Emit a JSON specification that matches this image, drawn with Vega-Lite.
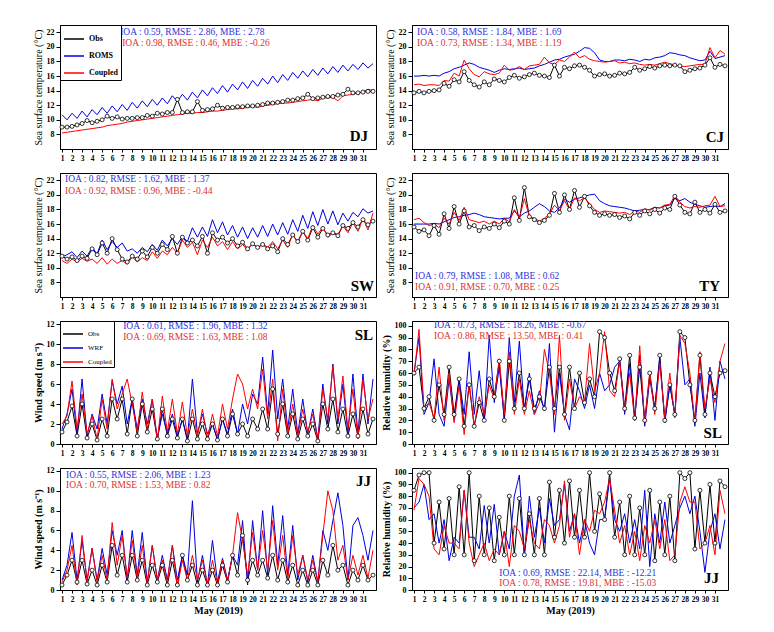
{
"$schema":"https://vega.github.io/schema/vega-lite/v6.json",
"background":"white",
"padding":{"left":32,"top":24,"right":0,"bottom":0},
"config":{"font":"Liberation Serif","view":{"stroke":"black","strokeWidth":1},
"axis":{"grid":false,"domainColor":"black","tickColor":"black","labelColor":"black","titleColor":"black","labelFont":"Liberation Serif","titleFont":"Liberation Serif","labelFontWeight":"bold","titleFontWeight":"bold","titleFontSize":10},
"axisX":{"labelAngle":0,"labelFontSize":7.5,"tickSize":3,"labelPadding":2,"labelOverlap":false,"labelFlush":false,"titlePadding":3},
"axisY":{"labelFontSize":8,"tickSize":4,"labelPadding":2,"titlePadding":3,"labelOverlap":false},
"legend":{"labelFont":"Liberation Serif"},
"text":{"font":"Liberation Serif"}},
"datasets":{
"notes":[{"p":"DJ","k":"b","txt":"IOA : 0.59, RMSE : 2.86, MBE : 2.78"},{"p":"DJ","k":"r","txt":"IOA : 0.98, RMSE : 0.46, MBE : -0.26"},{"p":"DJ","k":"s","txt":"DJ"},
{"p":"CJ","k":"b","txt":"IOA : 0.58, RMSE : 1.84, MBE : 1.69"},{"p":"CJ","k":"r","txt":"IOA : 0.73, RMSE : 1.34, MBE : 1.19"},{"p":"CJ","k":"s","txt":"CJ"},
{"p":"SW","k":"b","txt":"IOA : 0.82, RMSE : 1.62, MBE : 1.37"},{"p":"SW","k":"r","txt":"IOA : 0.92, RMSE : 0.96, MBE : -0.44"},{"p":"SW","k":"s","txt":"SW"},
{"p":"TY","k":"b","txt":"IOA : 0.79, RMSE : 1.08, MBE : 0.62"},{"p":"TY","k":"r","txt":"IOA : 0.91, RMSE : 0.70, MBE : 0.25"},{"p":"TY","k":"s","txt":"TY"},
{"p":"WSL","k":"b","txt":"IOA : 0.61, RMSE : 1.96, MBE : 1.32"},{"p":"WSL","k":"r","txt":"IOA : 0.69, RMSE : 1.63, MBE : 1.08"},{"p":"WSL","k":"s","txt":"SL"},
{"p":"HSL","k":"b","txt":"IOA : 0.73, RMSE : 18.26, MBE : -0.67"},{"p":"HSL","k":"r","txt":"IOA : 0.86, RMSE : 13.50, MBE : 0.41"},{"p":"HSL","k":"s","txt":"SL"},
{"p":"WJJ","k":"b","txt":"IOA : 0.55, RMSE : 2.06, MBE : 1.23"},{"p":"WJJ","k":"r","txt":"IOA : 0.70, RMSE : 1.53, MBE : 0.82"},{"p":"WJJ","k":"s","txt":"JJ"},
{"p":"HJJ","k":"b","txt":"IOA : 0.69, RMSE : 22.14, MBE : -12.21"},{"p":"HJJ","k":"r","txt":"IOA : 0.78, RMSE : 19.81, MBE : -15.03"},{"p":"HJJ","k":"s","txt":"JJ"}],
"DJ":[{"t":1,"o":9.0,"m":10.7,"c":8.2},{"t":1.5,"o":9.0,"m":10.0,"c":8.3},{"t":2,"o":9.1,"m":10.9,"c":8.4},{"t":2.5,"o":9.3,"m":10.2,"c":8.5},{"t":3,"o":9.5,"m":11.2,"c":8.6},{"t":3.5,"o":9.9,"m":10.4,"c":8.7},{"t":4,"o":9.6,"m":11.4,"c":8.8},{"t":4.5,"o":9.8,"m":10.7,"c":8.9},{"t":5,"o":10.0,"m":11.7,"c":9.0},{"t":5.5,"o":10.5,"m":10.9,"c":9.2},{"t":6,"o":10.2,"m":11.9,"c":9.3},{"t":6.5,"o":10.4,"m":11.1,"c":9.4},{"t":7,"o":10.1,"m":12.1,"c":9.5},{"t":7.5,"o":10.2,"m":11.3,"c":9.7},{"t":8,"o":10.2,"m":12.4,"c":9.8},{"t":8.5,"o":10.3,"m":11.6,"c":9.9},{"t":9,"o":10.3,"m":12.6,"c":10.0},{"t":9.5,"o":10.6,"m":11.8,"c":10.1},{"t":10,"o":10.5,"m":12.8,"c":10.2},{"t":10.5,"o":10.9,"m":12.0,"c":10.3},{"t":11,"o":10.8,"m":13.0,"c":10.4},{"t":11.5,"o":11.0,"m":12.2,"c":10.5},{"t":12,"o":11.0,"m":13.3,"c":10.6},{"t":12.5,"o":12.8,"m":12.5,"c":10.7},{"t":13,"o":11.0,"m":13.5,"c":10.8},{"t":13.5,"o":11.1,"m":12.7,"c":10.9},{"t":14,"o":11.1,"m":13.8,"c":10.9},{"t":14.5,"o":12.5,"m":13.0,"c":11.0},{"t":15,"o":11.3,"m":14.1,"c":11.0},{"t":15.5,"o":11.4,"m":13.3,"c":11.1},{"t":16,"o":11.5,"m":14.4,"c":11.2},{"t":16.5,"o":12.0,"m":13.6,"c":11.2},{"t":17,"o":11.6,"m":14.7,"c":11.3},{"t":17.5,"o":11.7,"m":13.8,"c":11.4},{"t":18,"o":11.7,"m":14.9,"c":11.5},{"t":18.5,"o":11.8,"m":14.1,"c":11.5},{"t":19,"o":11.8,"m":15.2,"c":11.6},{"t":19.5,"o":11.9,"m":14.3,"c":11.7},{"t":20,"o":11.9,"m":15.4,"c":11.8},{"t":20.5,"o":12.0,"m":14.6,"c":11.7},{"t":21,"o":12.1,"m":15.7,"c":11.9},{"t":21.5,"o":12.3,"m":14.9,"c":12.0},{"t":22,"o":12.3,"m":16.0,"c":12.1},{"t":22.5,"o":12.4,"m":15.1,"c":12.2},{"t":23,"o":12.5,"m":16.2,"c":12.3},{"t":23.5,"o":12.7,"m":15.4,"c":12.3},{"t":24,"o":12.7,"m":16.5,"c":12.4},{"t":24.5,"o":12.9,"m":15.7,"c":12.5},{"t":25,"o":13.0,"m":16.7,"c":12.6},{"t":25.5,"o":13.5,"m":15.9,"c":12.7},{"t":26,"o":12.9,"m":16.9,"c":12.8},{"t":26.5,"o":13.0,"m":16.1,"c":12.6},{"t":27,"o":13.1,"m":17.1,"c":13.0},{"t":27.5,"o":13.2,"m":16.3,"c":13.0},{"t":28,"o":13.2,"m":17.3,"c":13.1},{"t":28.5,"o":13.4,"m":16.5,"c":12.6},{"t":29,"o":13.5,"m":17.5,"c":13.3},{"t":29.5,"o":14.2,"m":16.7,"c":13.4},{"t":30,"o":13.7,"m":17.6,"c":13.5},{"t":30.5,"o":13.7,"m":16.9,"c":13.7},{"t":31,"o":13.8,"m":17.8,"c":13.8},{"t":31.5,"o":13.9,"m":17.1,"c":14.2},{"t":32,"o":13.9,"m":17.7,"c":14.0}],
"CJ":[{"t":1,"o":13.7,"m":16.0,"c":14.8},{"t":1.5,"o":13.9,"m":16.0,"c":14.9},{"t":2,"o":13.7,"m":16.1,"c":14.7},{"t":2.5,"o":13.9,"m":16.0,"c":14.8},{"t":3,"o":14.0,"m":16.1,"c":14.8},{"t":3.5,"o":14.1,"m":16.0,"c":14.7},{"t":4,"o":15.0,"m":16.4,"c":15.4},{"t":4.5,"o":14.6,"m":16.6,"c":15.3},{"t":5,"o":15.5,"m":17.0,"c":16.4},{"t":5.5,"o":15.2,"m":17.2,"c":16.0},{"t":6,"o":16.6,"m":17.5,"c":18.2},{"t":6.5,"o":15.4,"m":17.8,"c":17.0},{"t":7,"o":14.8,"m":17.6,"c":16.2},{"t":7.5,"o":14.5,"m":17.2,"c":15.9},{"t":8,"o":15.2,"m":17.0,"c":16.6},{"t":8.5,"o":14.8,"m":16.8,"c":16.3},{"t":9,"o":15.6,"m":16.5,"c":16.2},{"t":9.5,"o":15.4,"m":16.8,"c":16.4},{"t":10,"o":15.2,"m":17.0,"c":17.5},{"t":10.5,"o":15.8,"m":16.9,"c":16.8},{"t":11,"o":16.1,"m":17.0,"c":16.9},{"t":11.5,"o":15.7,"m":17.1,"c":17.3},{"t":12,"o":15.9,"m":16.9,"c":16.9},{"t":12.5,"o":16.2,"m":17.0,"c":17.4},{"t":13,"o":16.4,"m":17.1,"c":17.5},{"t":13.5,"o":16.1,"m":17.4,"c":17.6},{"t":14,"o":16.0,"m":17.6,"c":18.6},{"t":14.5,"o":15.8,"m":17.9,"c":17.8},{"t":15,"o":17.5,"m":18.2,"c":17.6},{"t":15.5,"o":16.0,"m":18.3,"c":18.2},{"t":16,"o":17.2,"m":18.6,"c":18.0},{"t":16.5,"o":17.0,"m":18.8,"c":18.6},{"t":17,"o":17.4,"m":19.0,"c":19.3},{"t":17.5,"o":17.5,"m":19.4,"c":18.5},{"t":18,"o":17.2,"m":19.9,"c":18.8},{"t":18.5,"o":16.8,"m":19.8,"c":18.3},{"t":19,"o":16.0,"m":19.2,"c":18.1},{"t":19.5,"o":16.2,"m":18.2,"c":18.0},{"t":20,"o":16.3,"m":18.0,"c":17.9},{"t":20.5,"o":16.0,"m":18.0,"c":18.0},{"t":21,"o":16.1,"m":18.2,"c":18.1},{"t":21.5,"o":16.4,"m":18.2,"c":17.8},{"t":22,"o":16.3,"m":18.1,"c":17.9},{"t":22.5,"o":16.5,"m":18.3,"c":17.7},{"t":23,"o":17.2,"m":18.2,"c":17.8},{"t":23.5,"o":16.8,"m":18.0,"c":17.6},{"t":24,"o":17.0,"m":18.3,"c":17.5},{"t":24.5,"o":17.3,"m":18.2,"c":17.6},{"t":25,"o":17.1,"m":18.5,"c":17.5},{"t":25.5,"o":17.4,"m":18.6,"c":17.7},{"t":26,"o":17.5,"m":18.8,"c":17.9},{"t":26.5,"o":17.4,"m":19.2,"c":17.7},{"t":27,"o":17.5,"m":19.1,"c":17.5},{"t":27.5,"o":17.4,"m":18.9,"c":17.4},{"t":28,"o":16.6,"m":18.8,"c":17.3},{"t":28.5,"o":16.8,"m":18.5,"c":17.4},{"t":29,"o":17.0,"m":18.3,"c":17.5},{"t":29.5,"o":17.1,"m":18.1,"c":17.6},{"t":30,"o":17.5,"m":18.2,"c":17.6},{"t":30.5,"o":18.5,"m":19.4,"c":19.9},{"t":31,"o":17.2,"m":18.4,"c":18.5},{"t":31.5,"o":17.6,"m":18.6,"c":19.5},{"t":32,"o":17.4,"m":18.8,"c":19.0}],
"SW":[{"t":1,"o":11.6,"m":11.5,"c":11.0},{"t":1.5,"o":11.2,"m":11.8,"c":10.6},{"t":2,"o":11.5,"m":12.2,"c":11.2},{"t":2.5,"o":11.0,"m":11.4,"c":10.8},{"t":3,"o":11.6,"m":12.3,"c":11.3},{"t":3.5,"o":11.3,"m":11.6,"c":10.9},{"t":4,"o":12.6,"m":12.8,"c":11.2},{"t":4.5,"o":11.8,"m":11.9,"c":10.6},{"t":5,"o":13.4,"m":13.8,"c":11.4},{"t":5.5,"o":12.0,"m":12.5,"c":10.5},{"t":6,"o":14.0,"m":13.6,"c":11.2},{"t":6.5,"o":12.5,"m":12.8,"c":10.6},{"t":7,"o":11.2,"m":13.4,"c":11.0},{"t":7.5,"o":10.8,"m":12.3,"c":10.5},{"t":8,"o":11.6,"m":12.6,"c":11.5},{"t":8.5,"o":11.2,"m":12.0,"c":10.8},{"t":9,"o":12.3,"m":12.8,"c":11.4},{"t":9.5,"o":11.5,"m":12.2,"c":11.0},{"t":10,"o":12.8,"m":13.2,"c":12.2},{"t":10.5,"o":12.0,"m":12.4,"c":11.3},{"t":11,"o":13.2,"m":13.8,"c":12.3},{"t":11.5,"o":12.5,"m":13.0,"c":11.8},{"t":12,"o":14.3,"m":14.0,"c":12.8},{"t":12.5,"o":12.0,"m":13.2,"c":12.0},{"t":13,"o":14.2,"m":14.3,"c":13.8},{"t":13.5,"o":13.4,"m":13.6,"c":12.8},{"t":14,"o":13.8,"m":15.5,"c":13.5},{"t":14.5,"o":13.0,"m":14.2,"c":11.8},{"t":15,"o":14.3,"m":15.6,"c":13.8},{"t":15.5,"o":12.0,"m":14.3,"c":12.8},{"t":16,"o":14.8,"m":16.6,"c":14.2},{"t":16.5,"o":13.8,"m":14.8,"c":13.0},{"t":17,"o":14.2,"m":16.3,"c":13.6},{"t":17.5,"o":13.4,"m":14.5,"c":12.5},{"t":18,"o":14.0,"m":15.8,"c":13.6},{"t":18.5,"o":13.0,"m":14.2,"c":12.6},{"t":19,"o":13.5,"m":15.6,"c":13.2},{"t":19.5,"o":12.6,"m":14.0,"c":12.4},{"t":20,"o":13.3,"m":15.5,"c":13.4},{"t":20.5,"o":12.8,"m":14.2,"c":12.6},{"t":21,"o":13.2,"m":15.8,"c":13.3},{"t":21.5,"o":12.6,"m":14.3,"c":12.8},{"t":22,"o":13.0,"m":16.0,"c":13.6},{"t":22.5,"o":12.2,"m":14.5,"c":12.6},{"t":23,"o":14.0,"m":16.2,"c":13.8},{"t":23.5,"o":13.2,"m":14.6,"c":12.8},{"t":24,"o":14.5,"m":16.6,"c":14.6},{"t":24.5,"o":13.6,"m":15.0,"c":13.4},{"t":25,"o":15.0,"m":17.2,"c":15.0},{"t":25.5,"o":13.8,"m":15.4,"c":14.0},{"t":26,"o":15.5,"m":17.7,"c":15.8},{"t":26.5,"o":14.2,"m":15.8,"c":14.6},{"t":27,"o":15.4,"m":18.0,"c":15.6},{"t":27.5,"o":14.5,"m":16.0,"c":14.2},{"t":28,"o":14.8,"m":17.8,"c":14.8},{"t":28.5,"o":14.4,"m":15.9,"c":14.6},{"t":29,"o":15.8,"m":17.5,"c":15.8},{"t":29.5,"o":15.4,"m":16.4,"c":14.8},{"t":30,"o":16.2,"m":17.6,"c":16.2},{"t":30.5,"o":15.6,"m":17.0,"c":15.0},{"t":31,"o":16.6,"m":18.1,"c":16.8},{"t":31.5,"o":15.9,"m":17.5,"c":15.2},{"t":32,"o":16.4,"m":17.8,"c":17.5}],
"TY":[{"t":1,"o":15.6,"m":16.0,"c":16.6},{"t":1.5,"o":15.0,"m":16.0,"c":16.8},{"t":2,"o":15.2,"m":16.0,"c":16.2},{"t":2.5,"o":14.4,"m":16.0,"c":15.8},{"t":3,"o":15.8,"m":16.1,"c":16.0},{"t":3.5,"o":14.6,"m":16.0,"c":15.5},{"t":4,"o":17.4,"m":16.3,"c":16.8},{"t":4.5,"o":15.4,"m":16.6,"c":16.0},{"t":5,"o":18.4,"m":16.9,"c":17.6},{"t":5.5,"o":16.0,"m":17.0,"c":16.5},{"t":6,"o":17.8,"m":17.2,"c":18.3},{"t":6.5,"o":15.6,"m":17.3,"c":16.6},{"t":7,"o":15.8,"m":17.5,"c":16.4},{"t":7.5,"o":15.1,"m":17.3,"c":16.2},{"t":8,"o":15.6,"m":17.0,"c":16.4},{"t":8.5,"o":15.4,"m":16.9,"c":16.0},{"t":9,"o":16.0,"m":16.8,"c":16.4},{"t":9.5,"o":15.5,"m":16.7,"c":16.0},{"t":10,"o":16.4,"m":16.8,"c":16.8},{"t":10.5,"o":16.0,"m":16.8,"c":16.3},{"t":11,"o":19.6,"m":17.8,"c":18.0},{"t":11.5,"o":16.5,"m":17.0,"c":16.8},{"t":12,"o":21.0,"m":17.5,"c":19.5},{"t":12.5,"o":17.0,"m":17.8,"c":17.0},{"t":13,"o":16.6,"m":18.3,"c":16.8},{"t":13.5,"o":16.2,"m":18.8,"c":16.4},{"t":14,"o":16.5,"m":18.4,"c":16.8},{"t":14.5,"o":17.2,"m":17.8,"c":17.4},{"t":15,"o":20.2,"m":17.6,"c":18.6},{"t":15.5,"o":17.6,"m":18.2,"c":17.8},{"t":16,"o":20.0,"m":19.4,"c":19.2},{"t":16.5,"o":18.0,"m":19.0,"c":18.0},{"t":17,"o":20.6,"m":19.4,"c":19.6},{"t":17.5,"o":18.3,"m":19.6,"c":19.2},{"t":18,"o":19.8,"m":19.8,"c":19.6},{"t":18.5,"o":18.5,"m":20.0,"c":18.8},{"t":19,"o":17.6,"m":20.1,"c":18.0},{"t":19.5,"o":17.2,"m":19.2,"c":17.6},{"t":20,"o":17.4,"m":18.8,"c":17.8},{"t":20.5,"o":17.2,"m":18.5,"c":17.7},{"t":21,"o":17.3,"m":18.4,"c":17.6},{"t":21.5,"o":16.9,"m":18.3,"c":17.5},{"t":22,"o":17.1,"m":18.2,"c":17.6},{"t":22.5,"o":16.7,"m":18.0,"c":17.3},{"t":23,"o":17.6,"m":17.8,"c":17.8},{"t":23.5,"o":17.2,"m":17.9,"c":17.6},{"t":24,"o":17.8,"m":18.0,"c":18.1},{"t":24.5,"o":17.4,"m":18.0,"c":17.9},{"t":25,"o":18.0,"m":18.3,"c":18.3},{"t":25.5,"o":17.5,"m":18.2,"c":18.2},{"t":26,"o":18.2,"m":18.5,"c":18.6},{"t":26.5,"o":18.0,"m":18.6,"c":18.7},{"t":27,"o":19.8,"m":19.5,"c":19.9},{"t":27.5,"o":18.6,"m":19.2,"c":19.0},{"t":28,"o":17.6,"m":19.5,"c":18.4},{"t":28.5,"o":17.4,"m":19.0,"c":18.2},{"t":29,"o":19.0,"m":18.7,"c":18.4},{"t":29.5,"o":17.6,"m":18.5,"c":18.3},{"t":30,"o":18.0,"m":18.3,"c":18.5},{"t":30.5,"o":17.5,"m":18.4,"c":18.6},{"t":31,"o":18.7,"m":18.5,"c":19.8},{"t":31.5,"o":17.6,"m":18.4,"c":18.4},{"t":32,"o":17.8,"m":18.8,"c":18.5}],
"WSL":[{"t":1,"o":1.2,"m":1.5,"c":2.0},{"t":1.5,"o":2.2,"m":3.0,"c":2.8},{"t":2,"o":3.8,"m":5.5,"c":6.3},{"t":2.5,"o":0.8,"m":1.0,"c":1.5},{"t":3,"o":4.0,"m":6.5,"c":5.0},{"t":3.5,"o":0.6,"m":0.8,"c":1.0},{"t":4,"o":2.0,"m":3.0,"c":2.8},{"t":4.5,"o":0.4,"m":1.5,"c":0.5},{"t":5,"o":2.5,"m":5.0,"c":4.5},{"t":5.5,"o":0.8,"m":2.0,"c":1.5},{"t":6,"o":4.5,"m":6.3,"c":6.5},{"t":6.5,"o":2.5,"m":4.0,"c":3.5},{"t":7,"o":4.5,"m":5.8,"c":5.0},{"t":7.5,"o":1.0,"m":2.0,"c":6.5},{"t":8,"o":4.5,"m":4.5,"c":4.0},{"t":8.5,"o":0.8,"m":1.5,"c":1.2},{"t":9,"o":4.0,"m":4.5,"c":5.2},{"t":9.5,"o":1.2,"m":2.0,"c":1.5},{"t":10,"o":3.5,"m":4.5,"c":4.5},{"t":10.5,"o":0.5,"m":0.5,"c":0.3},{"t":11,"o":3.5,"m":3.0,"c":4.8},{"t":11.5,"o":0.8,"m":1.0,"c":1.2},{"t":12,"o":2.5,"m":3.0,"c":4.5},{"t":12.5,"o":0.6,"m":0.8,"c":1.0},{"t":13,"o":2.5,"m":2.5,"c":4.2},{"t":13.5,"o":0.3,"m":0.5,"c":0.8},{"t":14,"o":2.5,"m":6.5,"c":3.5},{"t":14.5,"o":0.5,"m":1.0,"c":0.8},{"t":15,"o":2.0,"m":3.0,"c":3.5},{"t":15.5,"o":0.5,"m":1.0,"c":0.6},{"t":16,"o":2.0,"m":2.0,"c":3.0},{"t":16.5,"o":0.4,"m":0.5,"c":0.8},{"t":17,"o":2.5,"m":2.5,"c":4.0},{"t":17.5,"o":0.8,"m":1.0,"c":1.5},{"t":18,"o":3.0,"m":3.5,"c":4.5},{"t":18.5,"o":1.0,"m":1.0,"c":7.0},{"t":19,"o":2.0,"m":4.0,"c":6.0},{"t":19.5,"o":0.8,"m":2.0,"c":3.5},{"t":20,"o":2.5,"m":5.0,"c":5.5},{"t":20.5,"o":1.5,"m":4.0,"c":3.5},{"t":21,"o":3.5,"m":8.7,"c":7.5},{"t":21.5,"o":1.5,"m":3.0,"c":2.5},{"t":22,"o":5.5,"m":9.4,"c":6.5},{"t":22.5,"o":1.0,"m":2.5,"c":0.3},{"t":23,"o":4.0,"m":6.5,"c":5.5},{"t":23.5,"o":0.8,"m":1.5,"c":1.0},{"t":24,"o":3.0,"m":5.5,"c":4.0},{"t":24.5,"o":0.5,"m":1.0,"c":0.8},{"t":25,"o":2.5,"m":4.5,"c":3.5},{"t":25.5,"o":0.8,"m":1.0,"c":1.2},{"t":26,"o":2.0,"m":3.5,"c":3.0},{"t":26.5,"o":0.3,"m":0.5,"c":0.3},{"t":27,"o":4.0,"m":6.0,"c":5.5},{"t":27.5,"o":1.5,"m":2.0,"c":2.5},{"t":28,"o":4.5,"m":8.0,"c":7.8},{"t":28.5,"o":1.2,"m":2.0,"c":2.5},{"t":29,"o":3.5,"m":6.0,"c":6.8},{"t":29.5,"o":0.8,"m":1.0,"c":1.5},{"t":30,"o":3.0,"m":7.0,"c":5.5},{"t":30.5,"o":0.8,"m":1.0,"c":0.5},{"t":31,"o":3.5,"m":7.0,"c":6.5},{"t":31.5,"o":1.0,"m":2.0,"c":2.5},{"t":32,"o":2.5,"m":6.5,"c":4.5}],
"WJJ":[{"t":1,"o":0.5,"m":1.0,"c":0.8},{"t":1.5,"o":1.5,"m":2.5,"c":2.0},{"t":2,"o":3.0,"m":5.8,"c":4.5},{"t":2.5,"o":0.8,"m":1.0,"c":0.5},{"t":3,"o":3.0,"m":5.0,"c":5.5},{"t":3.5,"o":0.6,"m":1.0,"c":0.8},{"t":4,"o":2.0,"m":4.2,"c":4.2},{"t":4.5,"o":0.5,"m":1.0,"c":0.8},{"t":5,"o":2.5,"m":4.2,"c":3.5},{"t":5.5,"o":0.8,"m":1.5,"c":1.0},{"t":6,"o":4.5,"m":6.0,"c":6.8},{"t":6.5,"o":1.5,"m":3.5,"c":2.5},{"t":7,"o":3.5,"m":6.0,"c":5.5},{"t":7.5,"o":0.8,"m":1.0,"c":1.2},{"t":8,"o":3.5,"m":6.0,"c":5.0},{"t":8.5,"o":1.0,"m":1.5,"c":1.2},{"t":9,"o":3.0,"m":5.8,"c":4.5},{"t":9.5,"o":0.5,"m":0.8,"c":0.6},{"t":10,"o":2.5,"m":4.5,"c":4.5},{"t":10.5,"o":0.8,"m":1.0,"c":1.0},{"t":11,"o":2.5,"m":3.5,"c":3.0},{"t":11.5,"o":0.5,"m":1.0,"c":0.8},{"t":12,"o":3.0,"m":4.5,"c":4.5},{"t":12.5,"o":0.5,"m":1.0,"c":0.3},{"t":13,"o":3.5,"m":3.5,"c":3.0},{"t":13.5,"o":1.0,"m":1.5,"c":1.0},{"t":14,"o":2.5,"m":9.0,"c":3.5},{"t":14.5,"o":0.5,"m":0.8,"c":1.0},{"t":15,"o":2.0,"m":3.5,"c":3.0},{"t":15.5,"o":0.5,"m":0.5,"c":0.5},{"t":16,"o":2.0,"m":5.0,"c":3.0},{"t":16.5,"o":0.5,"m":0.8,"c":0.6},{"t":17,"o":2.5,"m":3.2,"c":3.0},{"t":17.5,"o":0.8,"m":1.0,"c":0.8},{"t":18,"o":3.5,"m":3.5,"c":3.5},{"t":18.5,"o":1.5,"m":2.5,"c":7.8},{"t":19,"o":5.5,"m":7.0,"c":5.0},{"t":19.5,"o":1.0,"m":0.5,"c":1.5},{"t":20,"o":3.0,"m":7.0,"c":5.8},{"t":20.5,"o":1.5,"m":2.0,"c":2.0},{"t":21,"o":3.0,"m":8.0,"c":6.0},{"t":21.5,"o":1.2,"m":1.5,"c":2.0},{"t":22,"o":3.5,"m":8.5,"c":7.0},{"t":22.5,"o":1.0,"m":2.5,"c":2.0},{"t":23,"o":3.0,"m":7.5,"c":5.5},{"t":23.5,"o":0.8,"m":1.5,"c":1.0},{"t":24,"o":2.5,"m":6.5,"c":5.5},{"t":24.5,"o":0.5,"m":1.0,"c":1.5},{"t":25,"o":2.0,"m":3.5,"c":3.5},{"t":25.5,"o":0.5,"m":0.8,"c":1.0},{"t":26,"o":2.0,"m":3.5,"c":3.0},{"t":26.5,"o":0.5,"m":0.8,"c":0.8},{"t":27,"o":3.0,"m":6.0,"c":5.5},{"t":27.5,"o":1.5,"m":4.0,"c":10.0},{"t":28,"o":4.5,"m":7.0,"c":8.0},{"t":28.5,"o":2.0,"m":9.8,"c":3.0},{"t":29,"o":2.5,"m":6.5,"c":4.5},{"t":29.5,"o":0.5,"m":1.0,"c":1.0},{"t":30,"o":2.0,"m":6.5,"c":3.5},{"t":30.5,"o":1.0,"m":7.3,"c":1.5},{"t":31,"o":2.5,"m":5.5,"c":3.5},{"t":31.5,"o":1.0,"m":3.0,"c":1.2},{"t":32,"o":1.5,"m":6.0,"c":4.0}],
"HSL":[{"t":1,"o":60,"m":60,"c":58},{"t":1.5,"o":65,"m":90,"c":97},{"t":2,"o":30,"m":25,"c":30},{"t":2.5,"o":40,"m":35,"c":35},{"t":3,"o":20,"m":72,"c":22},{"t":3.5,"o":50,"m":25,"c":65},{"t":4,"o":25,"m":15,"c":20},{"t":4.5,"o":65,"m":55,"c":60},{"t":5,"o":25,"m":20,"c":18},{"t":5.5,"o":55,"m":55,"c":50},{"t":6,"o":15,"m":25,"c":8},{"t":6.5,"o":50,"m":78,"c":52},{"t":7,"o":15,"m":25,"c":15},{"t":7.5,"o":35,"m":62,"c":40},{"t":8,"o":20,"m":20,"c":25},{"t":8.5,"o":55,"m":92,"c":50},{"t":9,"o":40,"m":35,"c":38},{"t":9.5,"o":70,"m":65,"c":72},{"t":10,"o":20,"m":22,"c":25},{"t":10.5,"o":70,"m":90,"c":78},{"t":11,"o":30,"m":35,"c":25},{"t":11.5,"o":60,"m":87,"c":55},{"t":12,"o":30,"m":28,"c":25},{"t":12.5,"o":55,"m":60,"c":45},{"t":13,"o":30,"m":25,"c":25},{"t":13.5,"o":40,"m":45,"c":35},{"t":14,"o":30,"m":28,"c":80},{"t":14.5,"o":65,"m":85,"c":60},{"t":15,"o":30,"m":10,"c":25},{"t":15.5,"o":65,"m":60,"c":92},{"t":16,"o":25,"m":25,"c":20},{"t":16.5,"o":65,"m":12,"c":55},{"t":17,"o":30,"m":55,"c":30},{"t":17.5,"o":60,"m":45,"c":40},{"t":18,"o":35,"m":30,"c":35},{"t":18.5,"o":55,"m":50,"c":85},{"t":19,"o":40,"m":30,"c":45},{"t":19.5,"o":95,"m":60,"c":60},{"t":20,"o":90,"m":45,"c":95},{"t":20.5,"o":60,"m":50,"c":45},{"t":21,"o":45,"m":65,"c":40},{"t":21.5,"o":72,"m":70,"c":70},{"t":22,"o":30,"m":25,"c":28},{"t":22.5,"o":75,"m":68,"c":60},{"t":23,"o":22,"m":20,"c":20},{"t":23.5,"o":65,"m":75,"c":83},{"t":24,"o":20,"m":15,"c":18},{"t":24.5,"o":60,"m":55,"c":60},{"t":25,"o":30,"m":30,"c":25},{"t":25.5,"o":75,"m":72,"c":68},{"t":26,"o":20,"m":18,"c":22},{"t":26.5,"o":50,"m":50,"c":60},{"t":27,"o":25,"m":25,"c":22},{"t":27.5,"o":95,"m":90,"c":92},{"t":28,"o":90,"m":50,"c":85},{"t":28.5,"o":50,"m":55,"c":60},{"t":29,"o":20,"m":15,"c":18},{"t":29.5,"o":75,"m":60,"c":78},{"t":30,"o":25,"m":22,"c":30},{"t":30.5,"o":60,"m":65,"c":55},{"t":31,"o":40,"m":20,"c":35},{"t":31.5,"o":60,"m":70,"c":70},{"t":32,"o":62,"m":55,"c":85}],
"HJJ":[{"t":1,"o":85,"m":70,"c":68},{"t":1.5,"o":98,"m":75,"c":95},{"t":2,"o":100,"m":90,"c":90},{"t":2.5,"o":100,"m":60,"c":80},{"t":3,"o":40,"m":65,"c":35},{"t":3.5,"o":75,"m":40,"c":30},{"t":4,"o":35,"m":60,"c":55},{"t":4.5,"o":78,"m":25,"c":40},{"t":5,"o":30,"m":45,"c":40},{"t":5.5,"o":88,"m":40,"c":35},{"t":6,"o":30,"m":85,"c":85},{"t":6.5,"o":100,"m":45,"c":40},{"t":7,"o":25,"m":45,"c":20},{"t":7.5,"o":80,"m":35,"c":30},{"t":8,"o":30,"m":72,"c":40},{"t":8.5,"o":70,"m":40,"c":25},{"t":9,"o":25,"m":73,"c":35},{"t":9.5,"o":62,"m":30,"c":30},{"t":10,"o":30,"m":50,"c":50},{"t":10.5,"o":80,"m":35,"c":20},{"t":11,"o":30,"m":80,"c":55},{"t":11.5,"o":78,"m":98,"c":50},{"t":12,"o":30,"m":30,"c":35},{"t":12.5,"o":65,"m":80,"c":60},{"t":13,"o":30,"m":45,"c":40},{"t":13.5,"o":78,"m":70,"c":35},{"t":14,"o":30,"m":40,"c":60},{"t":14.5,"o":92,"m":78,"c":55},{"t":15,"o":45,"m":55,"c":40},{"t":15.5,"o":85,"m":60,"c":55},{"t":16,"o":40,"m":90,"c":93},{"t":16.5,"o":93,"m":50,"c":45},{"t":17,"o":45,"m":65,"c":65},{"t":17.5,"o":85,"m":40,"c":30},{"t":18,"o":45,"m":60,"c":60},{"t":18.5,"o":100,"m":40,"c":50},{"t":19,"o":50,"m":30,"c":68},{"t":19.5,"o":82,"m":60,"c":65},{"t":20,"o":60,"m":60,"c":75},{"t":20.5,"o":100,"m":95,"c":95},{"t":21,"o":45,"m":60,"c":68},{"t":21.5,"o":75,"m":50,"c":40},{"t":22,"o":30,"m":65,"c":55},{"t":22.5,"o":80,"m":40,"c":30},{"t":23,"o":30,"m":60,"c":50},{"t":23.5,"o":70,"m":35,"c":25},{"t":24,"o":30,"m":85,"c":55},{"t":24.5,"o":85,"m":20,"c":40},{"t":25,"o":25,"m":65,"c":60},{"t":25.5,"o":75,"m":40,"c":35},{"t":26,"o":30,"m":75,"c":60},{"t":26.5,"o":80,"m":40,"c":25},{"t":27,"o":25,"m":55,"c":30},{"t":27.5,"o":100,"m":70,"c":75},{"t":28,"o":95,"m":80,"c":88},{"t":28.5,"o":100,"m":65,"c":75},{"t":29,"o":35,"m":80,"c":75},{"t":29.5,"o":85,"m":50,"c":35},{"t":30,"o":40,"m":15,"c":40},{"t":30.5,"o":90,"m":50,"c":55},{"t":31,"o":40,"m":65,"c":30},{"t":31.5,"o":93,"m":35,"c":85},{"t":32,"o":88,"m":60,"c":65}]
},
"columns":2,
"spacing":{"row":24,"column":36},
"bounds":"flush",
"resolve":{"scale":{"color":"independent"},"legend":{"color":"independent"}},
"concat":[
{"width":316,"height":124,
"layer":[
{"data":{"name":"DJ"},"transform":[{"fold":["o","m","c"],"as":["s","v"]}],"mark":{"type":"line","strokeWidth":1},"encoding":{"x":{"field":"t","type":"quantitative","scale":{"domain":[0.8,32.3],"nice":false,"zero":false},"axis":{"values":[1,2,3,4,5,6,7,8,9,10,11,12,13,14,15,16,17,18,19,20,21,22,23,24,25,26,27,28,29,30,31],"title":null}},"y":{"field":"v","type":"quantitative","scale":{"domain":[6,23],"nice":false,"zero":false},"axis":{"values":[8,10,12,14,16,18,20,22],"title":"Sea surface temperature (°C)","titleFontWeight":"normal"}},"color":{"field":"s","type":"nominal","scale":{"domain":["o","m","c"],"range":["black","#0000e0","#ff0000"]},"legend":{"orient":"top-left","offset":0,"title":null,"labelExpr":"datum.label=='o'?'Obs':datum.label=='m'?'ROMS':'Coupled'","symbolType":"stroke","symbolStrokeWidth":1.5,"symbolSize":400,"strokeColor":"black","fillColor":"white","padding":3,"labelFontWeight":"bold","labelFontSize":8,"rowPadding":2}}}},
{"data":{"name":"DJ"},"transform":[{"fold":["o"],"as":["s","v"]}],"mark":{"type":"point","shape":"circle","filled":true,"fill":"white","stroke":"black","strokeWidth":0.8,"size":16,"opacity":1},"encoding":{"x":{"field":"t","type":"quantitative","axis":{"values":[1,2,3,4,5,6,7,8,9,10,11,12,13,14,15,16,17,18,19,20,21,22,23,24,25,26,27,28,29,30,31],"title":null}},"y":{"field":"v","type":"quantitative","axis":{"values":[8,10,12,14,16,18,20,22],"title":"Sea surface temperature (°C)","titleFontWeight":"normal"}}}},
{"data":{"name":"notes"},"transform":[{"filter":"datum.p=='DJ'&&datum.k=='b'"}],"mark":{"type":"text","align":"left","baseline":"middle","fontSize":9.5,"color":"#3030d8"},"encoding":{"x":{"datum":6.8,"type":"quantitative","axis":{"values":[1,2,3,4,5,6,7,8,9,10,11,12,13,14,15,16,17,18,19,20,21,22,23,24,25,26,27,28,29,30,31],"title":null}},"y":{"datum":22.0,"type":"quantitative","axis":{"values":[8,10,12,14,16,18,20,22],"title":"Sea surface temperature (°C)","titleFontWeight":"normal"}},"text":{"field":"txt"}}},
{"data":{"name":"notes"},"transform":[{"filter":"datum.p=='DJ'&&datum.k=='r'"}],"mark":{"type":"text","align":"left","baseline":"middle","fontSize":9.5,"color":"#e03030"},"encoding":{"x":{"datum":7.0,"type":"quantitative","axis":{"values":[1,2,3,4,5,6,7,8,9,10,11,12,13,14,15,16,17,18,19,20,21,22,23,24,25,26,27,28,29,30,31],"title":null}},"y":{"datum":20.5,"type":"quantitative","axis":{"values":[8,10,12,14,16,18,20,22],"title":"Sea surface temperature (°C)","titleFontWeight":"normal"}},"text":{"field":"txt"}}},
{"data":{"name":"notes"},"transform":[{"filter":"datum.p=='DJ'&&datum.k=='s'"}],"mark":{"type":"text","align":"right","baseline":"middle","fontSize":15,"fontWeight":"bold","color":"black"},"encoding":{"x":{"datum":31.5,"type":"quantitative","axis":{"values":[1,2,3,4,5,6,7,8,9,10,11,12,13,14,15,16,17,18,19,20,21,22,23,24,25,26,27,28,29,30,31],"title":null}},"y":{"datum":7.8,"type":"quantitative","axis":{"values":[8,10,12,14,16,18,20,22],"title":"Sea surface temperature (°C)","titleFontWeight":"normal"}},"text":{"field":"txt"}}}
]},
{"width":316,"height":124,
"layer":[
{"data":{"name":"CJ"},"transform":[{"fold":["o","m","c"],"as":["s","v"]}],"mark":{"type":"line","strokeWidth":1},"encoding":{"x":{"field":"t","type":"quantitative","scale":{"domain":[0.8,32.3],"nice":false,"zero":false},"axis":{"values":[1,2,3,4,5,6,7,8,9,10,11,12,13,14,15,16,17,18,19,20,21,22,23,24,25,26,27,28,29,30,31],"title":null}},"y":{"field":"v","type":"quantitative","scale":{"domain":[6,23],"nice":false,"zero":false},"axis":{"values":[8,10,12,14,16,18,20,22],"title":"Sea surface temperature (°C)","titleFontWeight":"normal"}},"color":{"field":"s","type":"nominal","scale":{"domain":["o","m","c"],"range":["black","#0000e0","#ff0000"]},"legend":null}}},
{"data":{"name":"CJ"},"transform":[{"fold":["o"],"as":["s","v"]}],"mark":{"type":"point","shape":"circle","filled":true,"fill":"white","stroke":"black","strokeWidth":0.8,"size":16,"opacity":1},"encoding":{"x":{"field":"t","type":"quantitative","axis":{"values":[1,2,3,4,5,6,7,8,9,10,11,12,13,14,15,16,17,18,19,20,21,22,23,24,25,26,27,28,29,30,31],"title":null}},"y":{"field":"v","type":"quantitative","axis":{"values":[8,10,12,14,16,18,20,22],"title":"Sea surface temperature (°C)","titleFontWeight":"normal"}}}},
{"data":{"name":"notes"},"transform":[{"filter":"datum.p=='CJ'&&datum.k=='b'"}],"mark":{"type":"text","align":"left","baseline":"middle","fontSize":9.5,"color":"#3030d8"},"encoding":{"x":{"datum":1.3,"type":"quantitative","axis":{"values":[1,2,3,4,5,6,7,8,9,10,11,12,13,14,15,16,17,18,19,20,21,22,23,24,25,26,27,28,29,30,31],"title":null}},"y":{"datum":22.0,"type":"quantitative","axis":{"values":[8,10,12,14,16,18,20,22],"title":"Sea surface temperature (°C)","titleFontWeight":"normal"}},"text":{"field":"txt"}}},
{"data":{"name":"notes"},"transform":[{"filter":"datum.p=='CJ'&&datum.k=='r'"}],"mark":{"type":"text","align":"left","baseline":"middle","fontSize":9.5,"color":"#e03030"},"encoding":{"x":{"datum":1.3,"type":"quantitative","axis":{"values":[1,2,3,4,5,6,7,8,9,10,11,12,13,14,15,16,17,18,19,20,21,22,23,24,25,26,27,28,29,30,31],"title":null}},"y":{"datum":20.5,"type":"quantitative","axis":{"values":[8,10,12,14,16,18,20,22],"title":"Sea surface temperature (°C)","titleFontWeight":"normal"}},"text":{"field":"txt"}}},
{"data":{"name":"notes"},"transform":[{"filter":"datum.p=='CJ'&&datum.k=='s'"}],"mark":{"type":"text","align":"right","baseline":"middle","fontSize":15,"fontWeight":"bold","color":"black"},"encoding":{"x":{"datum":31.9,"type":"quantitative","axis":{"values":[1,2,3,4,5,6,7,8,9,10,11,12,13,14,15,16,17,18,19,20,21,22,23,24,25,26,27,28,29,30,31],"title":null}},"y":{"datum":7.6,"type":"quantitative","axis":{"values":[8,10,12,14,16,18,20,22],"title":"Sea surface temperature (°C)","titleFontWeight":"normal"}},"text":{"field":"txt"}}}
]},
{"width":316,"height":124,
"layer":[
{"data":{"name":"SW"},"transform":[{"fold":["o","m","c"],"as":["s","v"]}],"mark":{"type":"line","strokeWidth":1},"encoding":{"x":{"field":"t","type":"quantitative","scale":{"domain":[0.8,32.3],"nice":false,"zero":false},"axis":{"values":[1,2,3,4,5,6,7,8,9,10,11,12,13,14,15,16,17,18,19,20,21,22,23,24,25,26,27,28,29,30,31],"title":null}},"y":{"field":"v","type":"quantitative","scale":{"domain":[6,23],"nice":false,"zero":false},"axis":{"values":[8,10,12,14,16,18,20,22],"title":"Sea surface temperature (°C)","titleFontWeight":"normal"}},"color":{"field":"s","type":"nominal","scale":{"domain":["o","m","c"],"range":["black","#0000e0","#ff0000"]},"legend":null}}},
{"data":{"name":"SW"},"transform":[{"fold":["o"],"as":["s","v"]}],"mark":{"type":"point","shape":"circle","filled":true,"fill":"white","stroke":"black","strokeWidth":0.8,"size":16,"opacity":1},"encoding":{"x":{"field":"t","type":"quantitative","axis":{"values":[1,2,3,4,5,6,7,8,9,10,11,12,13,14,15,16,17,18,19,20,21,22,23,24,25,26,27,28,29,30,31],"title":null}},"y":{"field":"v","type":"quantitative","axis":{"values":[8,10,12,14,16,18,20,22],"title":"Sea surface temperature (°C)","titleFontWeight":"normal"}}}},
{"data":{"name":"notes"},"transform":[{"filter":"datum.p=='SW'&&datum.k=='b'"}],"mark":{"type":"text","align":"left","baseline":"middle","fontSize":9.5,"color":"#3030d8"},"encoding":{"x":{"datum":1.3,"type":"quantitative","axis":{"values":[1,2,3,4,5,6,7,8,9,10,11,12,13,14,15,16,17,18,19,20,21,22,23,24,25,26,27,28,29,30,31],"title":null}},"y":{"datum":22.2,"type":"quantitative","axis":{"values":[8,10,12,14,16,18,20,22],"title":"Sea surface temperature (°C)","titleFontWeight":"normal"}},"text":{"field":"txt"}}},
{"data":{"name":"notes"},"transform":[{"filter":"datum.p=='SW'&&datum.k=='r'"}],"mark":{"type":"text","align":"left","baseline":"middle","fontSize":9.5,"color":"#e03030"},"encoding":{"x":{"datum":1.3,"type":"quantitative","axis":{"values":[1,2,3,4,5,6,7,8,9,10,11,12,13,14,15,16,17,18,19,20,21,22,23,24,25,26,27,28,29,30,31],"title":null}},"y":{"datum":20.5,"type":"quantitative","axis":{"values":[8,10,12,14,16,18,20,22],"title":"Sea surface temperature (°C)","titleFontWeight":"normal"}},"text":{"field":"txt"}}},
{"data":{"name":"notes"},"transform":[{"filter":"datum.p=='SW'&&datum.k=='s'"}],"mark":{"type":"text","align":"right","baseline":"middle","fontSize":15,"fontWeight":"bold","color":"black"},"encoding":{"x":{"datum":32.1,"type":"quantitative","axis":{"values":[1,2,3,4,5,6,7,8,9,10,11,12,13,14,15,16,17,18,19,20,21,22,23,24,25,26,27,28,29,30,31],"title":null}},"y":{"datum":7.5,"type":"quantitative","axis":{"values":[8,10,12,14,16,18,20,22],"title":"Sea surface temperature (°C)","titleFontWeight":"normal"}},"text":{"field":"txt"}}}
]},
{"width":316,"height":124,
"layer":[
{"data":{"name":"TY"},"transform":[{"fold":["o","m","c"],"as":["s","v"]}],"mark":{"type":"line","strokeWidth":1},"encoding":{"x":{"field":"t","type":"quantitative","scale":{"domain":[0.8,32.3],"nice":false,"zero":false},"axis":{"values":[1,2,3,4,5,6,7,8,9,10,11,12,13,14,15,16,17,18,19,20,21,22,23,24,25,26,27,28,29,30,31],"title":null}},"y":{"field":"v","type":"quantitative","scale":{"domain":[6,23],"nice":false,"zero":false},"axis":{"values":[8,10,12,14,16,18,20,22],"title":"Sea surface temperature (°C)","titleFontWeight":"normal"}},"color":{"field":"s","type":"nominal","scale":{"domain":["o","m","c"],"range":["black","#0000e0","#ff0000"]},"legend":null}}},
{"data":{"name":"TY"},"transform":[{"fold":["o"],"as":["s","v"]}],"mark":{"type":"point","shape":"circle","filled":true,"fill":"white","stroke":"black","strokeWidth":0.8,"size":16,"opacity":1},"encoding":{"x":{"field":"t","type":"quantitative","axis":{"values":[1,2,3,4,5,6,7,8,9,10,11,12,13,14,15,16,17,18,19,20,21,22,23,24,25,26,27,28,29,30,31],"title":null}},"y":{"field":"v","type":"quantitative","axis":{"values":[8,10,12,14,16,18,20,22],"title":"Sea surface temperature (°C)","titleFontWeight":"normal"}}}},
{"data":{"name":"notes"},"transform":[{"filter":"datum.p=='TY'&&datum.k=='b'"}],"mark":{"type":"text","align":"left","baseline":"middle","fontSize":9.5,"color":"#3030d8"},"encoding":{"x":{"datum":1.1,"type":"quantitative","axis":{"values":[1,2,3,4,5,6,7,8,9,10,11,12,13,14,15,16,17,18,19,20,21,22,23,24,25,26,27,28,29,30,31],"title":null}},"y":{"datum":8.9,"type":"quantitative","axis":{"values":[8,10,12,14,16,18,20,22],"title":"Sea surface temperature (°C)","titleFontWeight":"normal"}},"text":{"field":"txt"}}},
{"data":{"name":"notes"},"transform":[{"filter":"datum.p=='TY'&&datum.k=='r'"}],"mark":{"type":"text","align":"left","baseline":"middle","fontSize":9.5,"color":"#e03030"},"encoding":{"x":{"datum":1.1,"type":"quantitative","axis":{"values":[1,2,3,4,5,6,7,8,9,10,11,12,13,14,15,16,17,18,19,20,21,22,23,24,25,26,27,28,29,30,31],"title":null}},"y":{"datum":7.35,"type":"quantitative","axis":{"values":[8,10,12,14,16,18,20,22],"title":"Sea surface temperature (°C)","titleFontWeight":"normal"}},"text":{"field":"txt"}}},
{"data":{"name":"notes"},"transform":[{"filter":"datum.p=='TY'&&datum.k=='s'"}],"mark":{"type":"text","align":"right","baseline":"middle","fontSize":15,"fontWeight":"bold","color":"black"},"encoding":{"x":{"datum":31.5,"type":"quantitative","axis":{"values":[1,2,3,4,5,6,7,8,9,10,11,12,13,14,15,16,17,18,19,20,21,22,23,24,25,26,27,28,29,30,31],"title":null}},"y":{"datum":7.5,"type":"quantitative","axis":{"values":[8,10,12,14,16,18,20,22],"title":"Sea surface temperature (°C)","titleFontWeight":"normal"}},"text":{"field":"txt"}}}
]},
{"width":316,"height":123,
"layer":[
{"data":{"name":"WSL"},"transform":[{"fold":["o","m","c"],"as":["s","v"]}],"mark":{"type":"line","strokeWidth":1},"encoding":{"x":{"field":"t","type":"quantitative","scale":{"domain":[0.8,32.3],"nice":false,"zero":false},"axis":{"values":[1,2,3,4,5,6,7,8,9,10,11,12,13,14,15,16,17,18,19,20,21,22,23,24,25,26,27,28,29,30,31],"title":null}},"y":{"field":"v","type":"quantitative","scale":{"domain":[0,12.3],"nice":false,"zero":false},"axis":{"values":[0,2,4,6,8,10,12],"title":"Wind speed (m s⁻¹)"}},"color":{"field":"s","type":"nominal","scale":{"domain":["o","m","c"],"range":["black","#0000e0","#ff0000"]},"legend":{"orient":"top-left","offset":0,"title":null,"labelExpr":"datum.label=='o'?'Obs':datum.label=='m'?'WRF':'Coupled'","symbolType":"stroke","symbolStrokeWidth":1.5,"symbolSize":400,"strokeColor":"black","fillColor":"white","padding":2,"labelFontWeight":"normal","labelFontSize":7,"rowPadding":0}}}},
{"data":{"name":"WSL"},"transform":[{"fold":["o"],"as":["s","v"]}],"mark":{"type":"point","shape":"circle","filled":true,"fill":"white","stroke":"black","strokeWidth":0.8,"size":16,"opacity":1},"encoding":{"x":{"field":"t","type":"quantitative","axis":{"values":[1,2,3,4,5,6,7,8,9,10,11,12,13,14,15,16,17,18,19,20,21,22,23,24,25,26,27,28,29,30,31],"title":null}},"y":{"field":"v","type":"quantitative","axis":{"values":[0,2,4,6,8,10,12],"title":"Wind speed (m s⁻¹)"}}}},
{"data":{"name":"notes"},"transform":[{"filter":"datum.p=='WSL'&&datum.k=='b'"}],"mark":{"type":"text","align":"left","baseline":"middle","fontSize":9.5,"color":"#3030d8"},"encoding":{"x":{"datum":7.1,"type":"quantitative","axis":{"values":[1,2,3,4,5,6,7,8,9,10,11,12,13,14,15,16,17,18,19,20,21,22,23,24,25,26,27,28,29,30,31],"title":null}},"y":{"datum":11.8,"type":"quantitative","axis":{"values":[0,2,4,6,8,10,12],"title":"Wind speed (m s⁻¹)"}},"text":{"field":"txt"}}},
{"data":{"name":"notes"},"transform":[{"filter":"datum.p=='WSL'&&datum.k=='r'"}],"mark":{"type":"text","align":"left","baseline":"middle","fontSize":9.5,"color":"#e03030"},"encoding":{"x":{"datum":7.1,"type":"quantitative","axis":{"values":[1,2,3,4,5,6,7,8,9,10,11,12,13,14,15,16,17,18,19,20,21,22,23,24,25,26,27,28,29,30,31],"title":null}},"y":{"datum":10.7,"type":"quantitative","axis":{"values":[0,2,4,6,8,10,12],"title":"Wind speed (m s⁻¹)"}},"text":{"field":"txt"}}},
{"data":{"name":"notes"},"transform":[{"filter":"datum.p=='WSL'&&datum.k=='s'"}],"mark":{"type":"text","align":"right","baseline":"middle","fontSize":15,"fontWeight":"bold","color":"black"},"encoding":{"x":{"datum":32.0,"type":"quantitative","axis":{"values":[1,2,3,4,5,6,7,8,9,10,11,12,13,14,15,16,17,18,19,20,21,22,23,24,25,26,27,28,29,30,31],"title":null}},"y":{"datum":10.9,"type":"quantitative","axis":{"values":[0,2,4,6,8,10,12],"title":"Wind speed (m s⁻¹)"}},"text":{"field":"txt"}}}
]},
{"width":316,"height":123,
"layer":[
{"data":{"name":"HSL"},"transform":[{"fold":["o","m","c"],"as":["s","v"]}],"mark":{"type":"line","strokeWidth":1},"encoding":{"x":{"field":"t","type":"quantitative","scale":{"domain":[0.8,32.3],"nice":false,"zero":false},"axis":{"values":[1,2,3,4,5,6,7,8,9,10,11,12,13,14,15,16,17,18,19,20,21,22,23,24,25,26,27,28,29,30,31],"title":null}},"y":{"field":"v","type":"quantitative","scale":{"domain":[0,104],"nice":false,"zero":false},"axis":{"values":[0,10,20,30,40,50,60,70,80,90,100],"title":"Relative humidity (%)"}},"color":{"field":"s","type":"nominal","scale":{"domain":["o","m","c"],"range":["black","#0000e0","#ff0000"]},"legend":null}}},
{"data":{"name":"HSL"},"transform":[{"fold":["o"],"as":["s","v"]}],"mark":{"type":"point","shape":"circle","filled":true,"fill":"white","stroke":"black","strokeWidth":0.8,"size":16,"opacity":1},"encoding":{"x":{"field":"t","type":"quantitative","axis":{"values":[1,2,3,4,5,6,7,8,9,10,11,12,13,14,15,16,17,18,19,20,21,22,23,24,25,26,27,28,29,30,31],"title":null}},"y":{"field":"v","type":"quantitative","axis":{"values":[0,10,20,30,40,50,60,70,80,90,100],"title":"Relative humidity (%)"}}}},
{"data":{"name":"notes"},"transform":[{"filter":"datum.p=='HSL'&&datum.k=='b'"}],"mark":{"type":"text","align":"left","baseline":"middle","fontSize":9.5,"color":"#3030d8"},"encoding":{"x":{"datum":3.0,"type":"quantitative","axis":{"values":[1,2,3,4,5,6,7,8,9,10,11,12,13,14,15,16,17,18,19,20,21,22,23,24,25,26,27,28,29,30,31],"title":null}},"y":{"datum":100.6,"type":"quantitative","axis":{"values":[0,10,20,30,40,50,60,70,80,90,100],"title":"Relative humidity (%)"}},"text":{"field":"txt"}}},
{"data":{"name":"notes"},"transform":[{"filter":"datum.p=='HSL'&&datum.k=='r'"}],"mark":{"type":"text","align":"left","baseline":"middle","fontSize":9.5,"color":"#e03030"},"encoding":{"x":{"datum":3.0,"type":"quantitative","axis":{"values":[1,2,3,4,5,6,7,8,9,10,11,12,13,14,15,16,17,18,19,20,21,22,23,24,25,26,27,28,29,30,31],"title":null}},"y":{"datum":91.2,"type":"quantitative","axis":{"values":[0,10,20,30,40,50,60,70,80,90,100],"title":"Relative humidity (%)"}},"text":{"field":"txt"}}},
{"data":{"name":"notes"},"transform":[{"filter":"datum.p=='HSL'&&datum.k=='s'"}],"mark":{"type":"text","align":"right","baseline":"middle","fontSize":15,"fontWeight":"bold","color":"black"},"encoding":{"x":{"datum":31.7,"type":"quantitative","axis":{"values":[1,2,3,4,5,6,7,8,9,10,11,12,13,14,15,16,17,18,19,20,21,22,23,24,25,26,27,28,29,30,31],"title":null}},"y":{"datum":9.4,"type":"quantitative","axis":{"values":[0,10,20,30,40,50,60,70,80,90,100],"title":"Relative humidity (%)"}},"text":{"field":"txt"}}}
]},
{"width":316,"height":122,
"layer":[
{"data":{"name":"WJJ"},"transform":[{"fold":["o","m","c"],"as":["s","v"]}],"mark":{"type":"line","strokeWidth":1},"encoding":{"x":{"field":"t","type":"quantitative","scale":{"domain":[0.8,32.3],"nice":false,"zero":false},"axis":{"values":[1,2,3,4,5,6,7,8,9,10,11,12,13,14,15,16,17,18,19,20,21,22,23,24,25,26,27,28,29,30,31],"title":"May (2019)"}},"y":{"field":"v","type":"quantitative","scale":{"domain":[0,12.3],"nice":false,"zero":false},"axis":{"values":[0,2,4,6,8,10,12],"title":"Wind speed (m s⁻¹)"}},"color":{"field":"s","type":"nominal","scale":{"domain":["o","m","c"],"range":["black","#0000e0","#ff0000"]},"legend":null}}},
{"data":{"name":"WJJ"},"transform":[{"fold":["o"],"as":["s","v"]}],"mark":{"type":"point","shape":"circle","filled":true,"fill":"white","stroke":"black","strokeWidth":0.8,"size":16,"opacity":1},"encoding":{"x":{"field":"t","type":"quantitative","axis":{"values":[1,2,3,4,5,6,7,8,9,10,11,12,13,14,15,16,17,18,19,20,21,22,23,24,25,26,27,28,29,30,31],"title":"May (2019)"}},"y":{"field":"v","type":"quantitative","axis":{"values":[0,2,4,6,8,10,12],"title":"Wind speed (m s⁻¹)"}}}},
{"data":{"name":"notes"},"transform":[{"filter":"datum.p=='WJJ'&&datum.k=='b'"}],"mark":{"type":"text","align":"left","baseline":"middle","fontSize":9.5,"color":"#3030d8"},"encoding":{"x":{"datum":1.4,"type":"quantitative","axis":{"values":[1,2,3,4,5,6,7,8,9,10,11,12,13,14,15,16,17,18,19,20,21,22,23,24,25,26,27,28,29,30,31],"title":"May (2019)"}},"y":{"datum":11.6,"type":"quantitative","axis":{"values":[0,2,4,6,8,10,12],"title":"Wind speed (m s⁻¹)"}},"text":{"field":"txt"}}},
{"data":{"name":"notes"},"transform":[{"filter":"datum.p=='WJJ'&&datum.k=='r'"}],"mark":{"type":"text","align":"left","baseline":"middle","fontSize":9.5,"color":"#e03030"},"encoding":{"x":{"datum":1.4,"type":"quantitative","axis":{"values":[1,2,3,4,5,6,7,8,9,10,11,12,13,14,15,16,17,18,19,20,21,22,23,24,25,26,27,28,29,30,31],"title":"May (2019)"}},"y":{"datum":10.6,"type":"quantitative","axis":{"values":[0,2,4,6,8,10,12],"title":"Wind speed (m s⁻¹)"}},"text":{"field":"txt"}}},
{"data":{"name":"notes"},"transform":[{"filter":"datum.p=='WJJ'&&datum.k=='s'"}],"mark":{"type":"text","align":"right","baseline":"middle","fontSize":15,"fontWeight":"bold","color":"black"},"encoding":{"x":{"datum":31.8,"type":"quantitative","axis":{"values":[1,2,3,4,5,6,7,8,9,10,11,12,13,14,15,16,17,18,19,20,21,22,23,24,25,26,27,28,29,30,31],"title":"May (2019)"}},"y":{"datum":11.0,"type":"quantitative","axis":{"values":[0,2,4,6,8,10,12],"title":"Wind speed (m s⁻¹)"}},"text":{"field":"txt"}}}
]},
{"width":316,"height":122,
"layer":[
{"data":{"name":"HJJ"},"transform":[{"fold":["o","m","c"],"as":["s","v"]}],"mark":{"type":"line","strokeWidth":1},"encoding":{"x":{"field":"t","type":"quantitative","scale":{"domain":[0.8,32.3],"nice":false,"zero":false},"axis":{"values":[1,2,3,4,5,6,7,8,9,10,11,12,13,14,15,16,17,18,19,20,21,22,23,24,25,26,27,28,29,30,31],"title":"May (2019)"}},"y":{"field":"v","type":"quantitative","scale":{"domain":[0,104],"nice":false,"zero":false},"axis":{"values":[0,10,20,30,40,50,60,70,80,90,100],"title":"Relative humidity (%)"}},"color":{"field":"s","type":"nominal","scale":{"domain":["o","m","c"],"range":["black","#0000e0","#ff0000"]},"legend":null}}},
{"data":{"name":"HJJ"},"transform":[{"fold":["o"],"as":["s","v"]}],"mark":{"type":"point","shape":"circle","filled":true,"fill":"white","stroke":"black","strokeWidth":0.8,"size":16,"opacity":1},"encoding":{"x":{"field":"t","type":"quantitative","axis":{"values":[1,2,3,4,5,6,7,8,9,10,11,12,13,14,15,16,17,18,19,20,21,22,23,24,25,26,27,28,29,30,31],"title":"May (2019)"}},"y":{"field":"v","type":"quantitative","axis":{"values":[0,10,20,30,40,50,60,70,80,90,100],"title":"Relative humidity (%)"}}}},
{"data":{"name":"notes"},"transform":[{"filter":"datum.p=='HJJ'&&datum.k=='b'"}],"mark":{"type":"text","align":"left","baseline":"middle","fontSize":9.5,"color":"#3030d8"},"encoding":{"x":{"datum":9.5,"type":"quantitative","axis":{"values":[1,2,3,4,5,6,7,8,9,10,11,12,13,14,15,16,17,18,19,20,21,22,23,24,25,26,27,28,29,30,31],"title":"May (2019)"}},"y":{"datum":14.5,"type":"quantitative","axis":{"values":[0,10,20,30,40,50,60,70,80,90,100],"title":"Relative humidity (%)"}},"text":{"field":"txt"}}},
{"data":{"name":"notes"},"transform":[{"filter":"datum.p=='HJJ'&&datum.k=='r'"}],"mark":{"type":"text","align":"left","baseline":"middle","fontSize":9.5,"color":"#e03030"},"encoding":{"x":{"datum":9.5,"type":"quantitative","axis":{"values":[1,2,3,4,5,6,7,8,9,10,11,12,13,14,15,16,17,18,19,20,21,22,23,24,25,26,27,28,29,30,31],"title":"May (2019)"}},"y":{"datum":6.0,"type":"quantitative","axis":{"values":[0,10,20,30,40,50,60,70,80,90,100],"title":"Relative humidity (%)"}},"text":{"field":"txt"}}},
{"data":{"name":"notes"},"transform":[{"filter":"datum.p=='HJJ'&&datum.k=='s'"}],"mark":{"type":"text","align":"right","baseline":"middle","fontSize":15,"fontWeight":"bold","color":"black"},"encoding":{"x":{"datum":31.4,"type":"quantitative","axis":{"values":[1,2,3,4,5,6,7,8,9,10,11,12,13,14,15,16,17,18,19,20,21,22,23,24,25,26,27,28,29,30,31],"title":"May (2019)"}},"y":{"datum":10.2,"type":"quantitative","axis":{"values":[0,10,20,30,40,50,60,70,80,90,100],"title":"Relative humidity (%)"}},"text":{"field":"txt"}}}
]}
]
}
